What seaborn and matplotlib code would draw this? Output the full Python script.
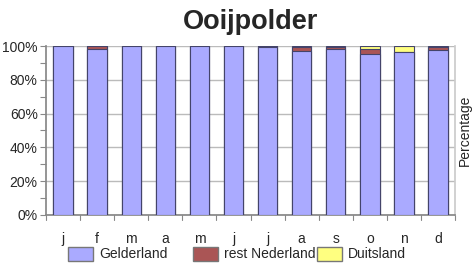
import matplotlib
matplotlib.use("Agg")
import matplotlib.pyplot as plt
import seaborn as sns
import pandas as pd
import numpy as np
from matplotlib.patches import Patch
from matplotlib.ticker import MultipleLocator, FuncFormatter

months = ["j", "f", "m", "a", "m", "j", "j", "a", "s", "o", "n", "d"]
gelderland = [100, 98.3, 100, 100, 100, 100, 99.2, 97.0, 98.0, 95.0, 96.5, 97.5]
rest_nederland = [0, 1.5, 0, 0, 0, 0, 0.8, 2.5, 1.3, 3.0, 0.2, 2.0]
duitsland = [0, 0.2, 0, 0, 0, 0, 0, 0.5, 0.7, 2.0, 3.3, 0.5]
series_labels = ["Gelderland", "rest Nederland", "Duitsland"]

sns.set_theme(style="white")
plt.rcParams['font.family'] = ['Liberation Sans', 'DejaVu Sans']

pos = [f"{i}" for i in range(len(months))]
df = pd.DataFrame({"pos": pos, "G": gelderland, "R": rest_nederland, "D": duitsland})
df["GR"] = df["G"] + df["R"]
df["GRD"] = df["GR"] + df["D"]

c_g = "#aaaaff"
c_r = "#aa5555"
c_d = "#ffff80"
edge = "#44446a"

fig = plt.figure(figsize=(4.75, 2.63), dpi=100)
ax = fig.add_axes([0.097, 0.183, 0.861, 0.642])

for col, color in [("GRD", c_d), ("GR", c_r), ("G", c_g)]:
    sns.barplot(data=df, x="pos", y=col, color=color, width=0.57,
                edgecolor=edge, linewidth=0.8, saturation=1, ax=ax, zorder=3)

ax.set_ylim(0, 100)
ax.set_xlim(-0.5, 11.5)
ax.yaxis.set_major_locator(MultipleLocator(20))
ax.yaxis.set_minor_locator(MultipleLocator(10))
ax.yaxis.set_major_formatter(FuncFormatter(lambda v, p: f"{int(v)}%"))
ax.set_xticks(range(12))
ax.set_xticklabels(months, fontsize=10)
ax.tick_params(axis="x", length=0, pad=12)
ax.tick_params(axis="y", which="both", left=True, length=4, width=0.8, color="#888888", labelsize=10, pad=2)
for b in np.arange(-0.5, 12, 1.0):
    ax.plot([b, b], [0, -3], color="#888888", lw=0.8, clip_on=False)
ax.grid(axis="y", which="major", color="#bbbbbb", lw=1.0, zorder=0)
ax.set_axisbelow(True)
ax.spines["top"].set_visible(False)
ax.spines["left"].set_color("#888888")
ax.spines["bottom"].set_color("#888888")
ax.spines["right"].set_color("#cccccc")
ax.set_xlabel("")
ax.set_ylabel("Percentage", fontsize=10)
ax.yaxis.set_label_position("right")
ax.yaxis.label.set_rotation(90)
ax.yaxis.labelpad = 2

fig.suptitle("Ooijpolder", fontsize=19.5, fontweight="bold", y=0.967, x=0.528)

colors = [c_g, c_r, c_d]
xs = [68, 193, 317]
for lab, col, x in zip(series_labels, colors, xs):
    leg = fig.legend(handles=[Patch(facecolor=col, edgecolor="#777777", label=lab)],
                     loc="center left", bbox_to_anchor=(x / 475, 9 / 263),
                     frameon=False, fontsize=10, borderpad=0, borderaxespad=0,
                     handlelength=1.8, handleheight=1.2, handletextpad=0.45)

fig.savefig("out.png", dpi=100)
